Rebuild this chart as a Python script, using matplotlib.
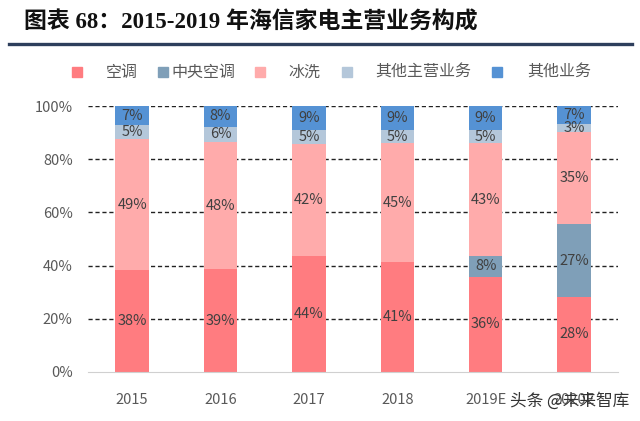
import numpy as np
import matplotlib
matplotlib.use("Agg")
import matplotlib.pyplot as plt
from matplotlib.lines import Line2D

plt.rcParams['font.family'] = ['Noto Sans CJK SC', 'DejaVu Sans']

# -----------------------------------
# Data (shares in %)
# -----------------------------------
years = ["2015", "2016", "2017", "2018", "2019E", "2020E"]
series_names = ["空调", "中央空调", "冰洗", "其他主营业务", "其他业务"]

ac = [38.2, 38.6, 43.6, 41.2, 35.9, 28.3]
central_ac = [0, 0, 0, 0, 7.6, 27.2]
fridge_wash = [49.4, 47.8, 42.2, 44.8, 42.6, 34.8]
other_main = [5.2, 5.9, 5.1, 4.9, 4.8, 3.0]
other = [7.2, 7.7, 9.1, 9.1, 9.1, 6.7]

labels_ac = ["38%", "39%", "44%", "41%", "36%", "28%"]
labels_central = ["", "", "", "", "8%", "27%"]
labels_fridge = ["49%", "48%", "42%", "45%", "43%", "35%"]
labels_other_main = ["5%", "6%", "5%", "5%", "5%", "3%"]
labels_other = ["7%", "8%", "9%", "9%", "9%", "7%"]

colors = ["#FF7C80", "#7F9FB8", "#FFABAB", "#B4C7DA", "#5592D4"]

# -----------------------------------
# Figure
# -----------------------------------
W, H = 640, 421
fig = plt.figure(figsize=(6.4, 4.21), dpi=100)
ax = fig.add_axes([0.1375, 0.1164, 0.8285, 0.6316])

x = np.arange(len(years))
width = 0.38
bottom = np.zeros(len(years))
all_series = [ac, central_ac, fridge_wash, other_main, other]
all_labels = [labels_ac, labels_central, labels_fridge, labels_other_main, labels_other]

for vals, labs, col in zip(all_series, all_labels, colors):
    vals = np.array(vals)
    ax.bar(x, vals, width, bottom=bottom, color=col, zorder=2)
    for i in range(len(years)):
        if labs[i]:
            ax.text(x[i], bottom[i] + vals[i] / 2, labs[i], ha="center", va="center",
                    fontsize=10.5, color="#404040", zorder=3)
    bottom += vals

ax.set_xlim(-0.5, len(years) - 0.5)
ax.set_ylim(0, 100)
ax.set_yticks([0, 20, 40, 60, 80, 100])
ax.set_yticklabels(["0%", "20%", "40%", "60%", "80%", "100%"])
ax.set_xticks(x)
ax.set_xticklabels(years)
ax.tick_params(axis="both", length=0, labelsize=10.5, labelcolor="#595959")
ax.tick_params(axis="x", pad=15)
ax.tick_params(axis="y", pad=11)

for yv in [20, 40, 60, 80, 100]:
    ax.axhline(yv, color="#222222", lw=1, ls=(0, (3, 2)), zorder=1)

for s in ["top", "right", "left"]:
    ax.spines[s].set_visible(False)
ax.spines["bottom"].set_color("#D0D0D0")

# Legend, placed item by item like the original
square_x = [77, 163, 260, 347, 497]
text_x = [106, 171, 288, 375, 527]
ly = 1 - 72 / H
for sx, tx, name, col in zip(square_x, text_x, series_names, colors):
    fig.add_artist(Line2D([sx / W], [ly], marker="s", markersize=7, color=col, ls=""))
    fig.text(tx / W, ly, name, fontsize=11.5, color="#595959", va="center", ha="left")

# Title and rule (Latin digits in a serif face, Chinese in bold sans)
fig.text(0.038, 0.947, "图表 68：2015-2019 年海信家电主营业务构成", fontsize=16.5,
         fontweight="bold", color="#111111", va="center",
         family=["Liberation Serif", "Noto Sans CJK SC"])
fig.add_artist(Line2D([0.014, 0.988], [0.895, 0.895], color="#2E3F5C", lw=2.4))

# Watermark
fig.text(0.983, 0.048, "头条 @未来智库", fontsize=12, color="#333333", ha="right", va="center")

fig.savefig("out.png", dpi=100)
